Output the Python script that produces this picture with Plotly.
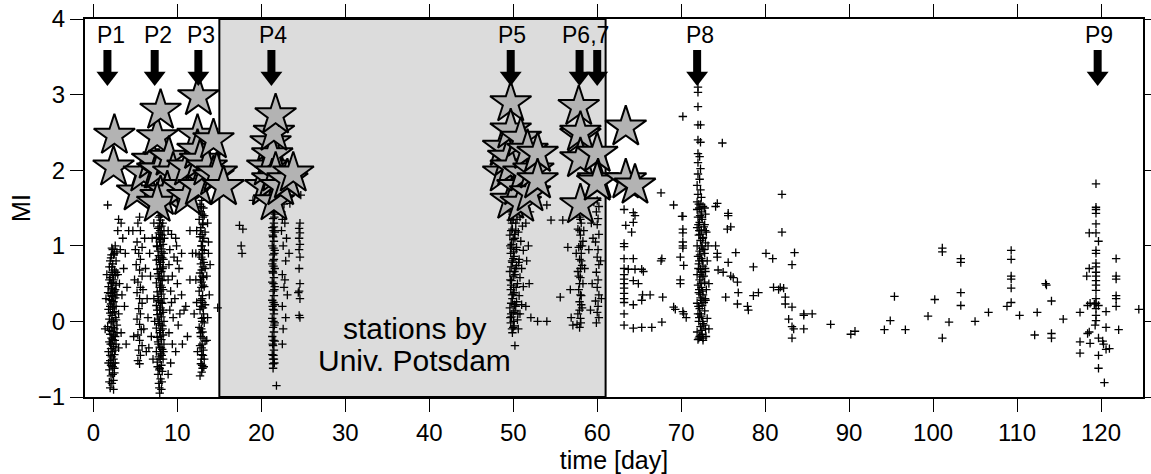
import plotly.graph_objects as go

# ---------------- data ----------------
# small events (crosses): (time [day], MI)
EV_P1 = [(2.0,-0.88),(2.2,-0.82),(2.4,-0.78),(2.1,-0.72),(2.5,-0.68),(1.9,-0.64),(2.3,-0.6),(2.6,-0.55),(2.0,-0.52),(2.2,-0.47),
         (2.5,-0.44),(1.8,-0.4),(2.1,-0.36),(2.4,-0.33),(2.7,-0.3),(1.9,-0.27),(2.3,-0.24),(2.6,-0.2),(2.0,-0.17),(2.2,-0.13),
         (2.5,-0.1),(1.7,-0.07),(2.8,-0.05),(2.1,-0.02),(2.4,0.0),(1.9,0.03),(2.6,0.05),(2.2,0.08),(2.0,0.11),(2.5,0.13),
         (1.8,0.16),(2.3,0.18),(2.7,0.2),(2.1,0.23),(2.4,0.26),(1.9,0.29),(2.6,0.31),(2.2,0.34),(2.0,0.37),(2.5,0.4),
         (2.3,0.43),(1.8,0.46),(2.7,0.48),(2.1,0.51),(2.4,0.55),(2.0,0.58),(2.6,0.61),(2.2,0.65),(2.5,0.68),(1.9,0.72),
         (2.3,0.76),(2.7,0.8),(2.1,0.84),(2.4,0.88),(2.8,0.92),(2.2,0.97),(2.6,1.0),
         (3.0,1.35),(3.3,1.3),(2.9,1.2),(3.5,1.1),(3.2,0.95),(3.6,0.7),(3.1,0.5),(3.4,0.35),(3.0,0.1),(3.3,-0.15),
         (1.5,0.3),(1.4,-0.1),(3.0,-0.35),(2.9,0.62),(1.7,1.54),(1.6,0.62),(3.8,0.9),(4.0,0.45),(3.7,0.2),(3.9,-0.3),(4.2,1.2),
         (2.3,-0.7),(2.1,-0.58),(2.4,-0.5),(2.2,-0.3),(2.4,-0.18),(2.2,0.0),(2.3,0.12),(2.2,0.28),(2.3,0.38),(2.2,0.5),
         (2.3,0.62),(2.2,0.72),(2.35,-0.08),(2.15,0.44),(2.45,0.2),
         (1.9,-0.8),(2.5,-0.62),(2.0,-0.45),(2.6,-0.38),(1.9,-0.12),(2.7,0.02),(2.0,0.2),(2.6,0.42),(1.9,0.55),(2.7,0.65),
         (2.0,0.8),(2.5,0.9),(2.4,-0.9),(2.25,-0.4),(2.35,-0.55),(2.15,-0.22),(2.25,0.33),(2.35,0.52),(2.15,0.88),(2.3,0.95),
         (1.8,-0.55),(2.8,-0.15),(2.8,0.35),(1.75,0.38),(2.05,-0.3),(2.55,-0.25)]
EV_P1B = [(5.5,1.38),(5.3,1.3),(5.6,1.2),(5.2,1.05),(5.8,0.98),(5.4,0.9),(5.6,0.82),(5.1,0.75),(5.5,0.68),(5.8,0.6),
          (5.3,0.52),(5.6,0.45),(5.2,0.38),(5.5,0.3),(5.8,0.24),(5.4,0.17),(5.6,0.1),(5.2,0.03),(5.5,-0.04),(5.7,-0.11),
          (5.3,-0.18),(5.5,-0.25),(5.8,-0.32),(5.4,-0.38),(5.6,-0.45),(5.3,-0.52),(5.5,-0.56),(6.2,0.7),(6.4,0.3),(6.0,-0.1),
          (4.9,0.55),(4.8,-0.2),(6.3,-0.4),(6.1,1.1),(5.9,0.42),(5.0,0.95),(6.5,0.05),(4.7,1.2)]
EV_P2 = [(7.9,-0.95),(8.1,-0.9),(7.8,-0.82),(8.0,-0.76),(7.7,-0.7),(8.2,-0.66),(7.9,-0.62),(8.1,-0.58),(7.6,-0.54),(8.3,-0.5),
         (7.8,-0.47),(8.0,-0.43),(7.5,-0.4),(8.2,-0.37),(7.9,-0.34),(8.4,-0.3),(7.7,-0.27),(8.1,-0.24),(7.6,-0.21),(8.3,-0.18),
         (7.9,-0.15),(8.0,-0.12),(7.5,-0.09),(8.2,-0.06),(7.8,-0.03),(8.4,0.0),(7.7,0.03),(8.1,0.06),(7.6,0.09),(8.3,0.12),
         (7.9,0.15),(8.0,0.18),(7.5,0.21),(8.2,0.24),(7.8,0.27),(8.4,0.3),(7.7,0.33),(8.1,0.36),(7.6,0.39),(8.3,0.42),
         (7.9,0.45),(8.0,0.48),(7.5,0.51),(8.2,0.54),(7.8,0.57),(8.4,0.6),(7.7,0.63),(8.1,0.66),(7.6,0.69),(8.3,0.72),
         (7.9,0.75),(8.0,0.78),(7.5,0.81),(8.2,0.84),(7.8,0.87),(8.4,0.9),(7.7,0.93),(8.1,0.96),(7.6,0.99),(8.3,1.02),
         (7.9,1.05),(8.0,1.08),(7.5,1.11),(8.2,1.14),(7.8,1.17),(8.4,1.2),(7.7,1.23),(8.1,1.26),(7.9,1.3),(8.0,1.34),
         (7.8,1.38),(8.1,1.42),(7.9,1.46),(8.0,1.5),(7.9,1.55),(8.0,1.6),
         (7.95,-0.5),(7.95,-0.2),(7.95,0.1),(7.95,0.4),(7.95,0.7),(7.95,1.0),(7.95,1.2),(8.05,-0.35),(8.05,-0.05),(8.05,0.25),
         (8.05,0.55),(8.05,0.85),(8.05,1.15),
         (7.85,-0.88),(8.15,-0.8),(7.85,-0.64),(8.15,-0.45),(7.75,-0.3),(8.25,-0.1),(7.85,0.0),(8.25,0.15),(7.75,0.28),(8.15,0.45),
         (7.85,0.6),(8.25,0.7),(7.75,0.82),(8.15,0.92),(7.85,1.1),(8.25,1.3),(7.85,1.25),(8.15,1.48),(7.95,1.4),(8.05,1.56),
         (7.6,0.15),(8.35,-0.4),(7.65,-0.6),(8.35,0.82),(7.55,1.0),(8.45,1.1),
         (8.9,1.2),(9.3,1.15),(9.8,1.1),(9.1,0.95),(9.6,0.85),(10.2,0.7),(9.0,0.75),(9.4,0.6),(10.0,0.5),(10.5,0.35),
         (9.2,0.4),(9.7,0.3),(10.8,0.15),(9.1,0.15),(9.5,0.05),(10.1,-0.05),(9.0,-0.15),(9.4,-0.3),(10.6,-0.3),(11.2,-0.2),
         (9.8,-0.4),(9.2,-0.55),(8.9,-0.7),(10.5,0.9),(11.0,0.2),(11.5,0.55),(9.9,1.0),(10.3,0.1),(8.9,0.55),(9.3,0.25),
         (11.8,0.9),(11.5,1.2),(12.0,0.1),(10.0,0.8),
         (7.0,1.1),(6.8,0.6),(7.2,0.3),(6.9,-0.2),(7.1,-0.5),(6.7,0.9),(7.2,1.3),(6.6,-0.35),(7.3,0.0)]
EV_P3 = [(12.9,1.6),(12.7,1.55),(13.1,1.5),(12.8,1.45),(13.2,1.4),(12.6,1.35),(13.0,1.3),(12.8,1.24),(13.3,1.18),(12.7,1.12),
         (13.0,1.06),(12.9,1.0),(13.2,0.94),(12.6,0.88),(13.0,0.82),(12.8,0.76),(13.3,0.7),(12.7,0.64),(13.1,0.58),(12.9,0.52),
         (13.2,0.46),(12.6,0.4),(13.0,0.34),(12.8,0.28),(13.3,0.22),(12.7,0.16),(13.1,0.1),(12.9,0.04),(13.2,-0.02),(12.6,-0.08),
         (13.0,-0.14),(12.8,-0.2),(13.3,-0.26),(12.7,-0.32),(13.1,-0.38),(12.9,-0.44),(13.2,-0.5),(12.8,-0.56),(13.0,-0.62),(12.9,-0.67),
         (12.7,-0.72),(12.95,1.42),(12.95,1.15),(12.95,0.9),(12.95,0.6),(12.95,0.3),(12.95,0.0),(12.95,-0.3),(13.05,1.28),(13.05,0.72),
         (13.05,0.18),(13.05,-0.45),(12.85,1.0),(12.85,0.45),(12.85,-0.1),
         (12.85,1.52),(13.05,1.38),(12.75,1.2),(13.15,1.1),(12.85,0.85),(13.15,0.78),(12.75,0.55),(13.05,0.48),(12.85,0.2),(13.15,0.05),
         (12.75,-0.15),(13.05,-0.22),(12.85,-0.5),(13.15,-0.6),(12.95,-0.58),(13.0,0.95),(12.9,0.68),(13.0,0.25),(12.9,-0.35),
         (12.3,1.2),(12.2,0.9),(13.6,1.3),(13.7,0.9),(13.5,0.6),(13.8,0.35),(13.6,0.05),(12.3,0.25),(13.5,-0.25),(12.4,-0.4),
         (13.7,1.05),(12.2,0.55),(14.8,0.18),(13.9,0.75)]
EV_P4 = [(17.4,1.27),(17.8,1.22),(17.6,1.0),(17.7,0.9),(19.0,1.6),
         (21.4,1.6),(21.5,1.54),(21.3,1.48),(21.6,1.42),(21.4,1.36),(21.5,1.3),(21.3,1.24),(21.6,1.18),(21.4,1.12),(21.5,1.06),
         (21.3,1.0),(21.6,0.94),(21.4,0.88),(21.5,0.82),(21.3,0.76),(21.6,0.7),(21.4,0.64),(21.5,0.58),(21.3,0.52),(21.6,0.46),
         (21.4,0.4),(21.5,0.34),(21.3,0.28),(21.6,0.22),(21.4,0.16),(21.5,0.1),(21.3,0.04),(21.6,-0.02),(21.4,-0.08),(21.5,-0.14),
         (21.3,-0.2),(21.6,-0.26),(21.4,-0.32),(21.5,-0.38),(21.3,-0.44),(21.5,-0.5),(21.4,-0.56),(21.4,-0.62),(21.8,-0.85),
         (21.45,1.45),(21.45,1.2),(21.45,0.97),(21.45,0.73),(21.45,0.5),(21.45,0.25),(21.45,0.0),(21.45,-0.25),(21.45,-0.45),
         (21.35,1.55),(21.55,1.38),(21.35,1.14),(21.55,0.9),(21.35,0.66),(21.55,0.42),(21.35,0.2),(21.55,-0.05),(21.35,-0.3),(21.55,-0.55),
         (21.4,-0.5),(21.5,0.15),(21.4,0.8),(21.5,1.25),
         (22.5,1.35),(22.8,1.3),(22.4,1.2),(22.6,1.0),(22.9,0.8),(22.5,0.62),(22.7,0.45),(23.1,0.35),(22.5,0.2),(22.9,0.05),
         (22.6,-0.1),(22.8,0.55),(23.3,0.9),(22.4,1.45),(22.7,1.55),(22.5,-0.3),(23.0,1.1),(23.4,1.56),(24.7,1.67),
         (24.6,1.3),(24.5,1.23),(24.6,1.17),(24.5,1.1),(24.6,1.02),(24.5,0.95),(24.6,0.85),(24.5,0.7),(24.6,0.5),(24.5,0.4),
         (24.4,0.38),(24.6,0.3),(24.5,0.08),(24.6,0.05)]
EV_P5 = [(49.8,1.6),(50.2,1.55),(49.6,1.5),(50.5,1.46),(49.9,1.42),(50.8,1.38),(49.7,1.34),(50.3,1.3),(51.1,1.26),(49.9,1.22),
         (50.6,1.18),(49.6,1.14),(50.2,1.1),(50.9,1.06),(49.8,1.02),(50.4,0.98),(51.2,0.94),(49.7,0.9),(50.1,0.86),(50.7,0.82),
         (49.9,0.78),(50.4,0.74),(51.0,0.7),(49.6,0.66),(50.2,0.62),(50.8,0.58),(49.8,0.54),(50.5,0.5),(51.2,0.46),(49.7,0.42),
         (50.1,0.38),(50.7,0.34),(49.9,0.3),(50.4,0.26),(51.0,0.22),(49.6,0.18),(50.2,0.14),(50.8,0.1),(49.8,0.06),(50.5,0.02),
         (49.7,-0.02),(50.1,-0.06),(50.6,-0.1),(49.9,-0.15),(50.2,-0.32),(51.5,1.3),(51.6,0.8),(51.5,0.2),(51.8,1.0),(51.9,0.5),
         (52.0,1.45),(52.1,0.05),
         (49.75,1.45),(49.75,1.2),(49.75,0.97),(49.75,0.72),(49.75,0.48),(49.75,0.24),(49.75,0.1),(50.0,1.35),(50.0,1.08),(50.0,0.83),
         (50.0,0.6),(50.0,0.36),(50.0,0.12),(50.0,-0.08),(50.3,1.2),(50.3,0.7),(50.3,0.2),
         (49.65,1.55),(50.05,1.48),(49.85,1.3),(50.15,1.15),(49.65,1.0),(50.05,0.92),(49.85,0.8),(50.15,0.66),(49.65,0.55),(50.05,0.45),
         (49.85,0.35),(50.15,0.22),(49.65,0.05),(50.05,0.0),(49.85,-0.1),(50.35,0.95),(50.35,0.45),(50.45,1.35),(50.55,0.1),(50.65,0.78),
         (54.0,1.54),(54.5,1.34),(55.9,1.34),(54.0,0.0),(52.9,0.0)]
EV_P67 = [(58.0,1.6),(57.8,1.52),(58.2,1.45),(57.9,1.38),(58.1,1.3),(57.7,1.22),(58.0,1.14),(58.3,1.06),(57.8,0.98),(58.1,0.9),
          (57.9,0.82),(58.2,0.74),(57.7,0.66),(58.0,0.58),(58.3,0.5),(57.8,0.42),(58.1,0.34),(57.9,0.26),(58.2,0.18),(57.7,0.1),
          (58.0,0.04),(57.6,-0.04),(57.9,-0.08),(58.4,1.2),(58.5,0.7),(57.5,0.9),
          (58.0,1.35),(58.0,1.0),(58.0,0.7),(58.0,0.35),(57.9,0.15),
          (58.1,1.5),(57.9,1.2),(58.1,0.8),(57.9,0.5),(58.1,0.22),(58.05,-0.02),(58.2,1.0),(57.8,0.6),
          (60.0,1.6),(60.2,1.52),(59.9,1.45),(60.1,1.36),(60.0,1.28),(60.2,1.15),(59.8,1.05),(60.1,0.95),(60.0,0.85),(60.2,0.75),
          (59.9,0.65),(60.1,0.55),(60.0,0.45),(60.2,0.35),(59.8,0.27),(60.1,0.2),(60.0,0.12),(60.2,0.05),(59.9,-0.02),(60.4,0.8),
          (60.5,0.3),(59.4,0.5),(59.2,0.15),(59.5,1.1),(59.0,0.95),(59.3,1.3),(59.6,1.58),
          (56.5,0.98),(55.6,0.32),(56.8,0.42),(57.1,-0.05),(56.9,0.05)]
EV_P8 = [(72.0,3.1),(72.0,3.03),(72.0,2.84),(72.0,2.6),(72.3,2.6),(72.0,2.4),(72.3,2.37),(72.0,2.22),(72.2,2.18),(72.0,2.1),
         (72.3,2.02),(72.0,1.95),(72.2,1.88),(71.9,1.8),(72.3,1.74),(72.0,1.68),(72.4,1.64),(71.9,1.58),
         (72.1,1.55),(72.6,1.52),(71.9,1.48),(72.4,1.45),(72.9,1.42),(72.0,1.38),(72.5,1.35),(72.2,1.31),(72.8,1.28),(71.9,1.24),
         (72.4,1.21),(73.0,1.18),(72.1,1.14),(72.6,1.11),(72.3,1.07),(72.9,1.04),(71.9,1.0),(72.5,0.97),(72.2,0.93),(72.8,0.9),
         (72.0,0.86),(72.4,0.83),(73.1,0.8),(72.1,0.76),(72.6,0.73),(72.3,0.69),(72.9,0.66),(71.9,0.62),(72.5,0.59),(72.2,0.55),
         (72.8,0.52),(72.0,0.48),(72.4,0.45),(73.0,0.42),(72.1,0.38),(72.6,0.35),(72.3,0.31),(72.9,0.28),(71.9,0.24),(72.5,0.21),
         (72.2,0.17),(72.8,0.14),(72.0,0.1),(72.4,0.07),(73.1,0.04),(72.1,0.0),(72.6,-0.03),(72.3,-0.07),(72.9,-0.1),(71.9,-0.14),
         (72.5,-0.17),(72.2,-0.2),(72.0,-0.24),(72.6,-0.22),
         (72.25,1.4),(72.25,1.15),(72.25,0.88),(72.25,0.62),(72.25,0.36),(72.25,0.1),(72.7,1.25),(72.7,0.95),(72.7,0.6),(72.7,0.25),
         (72.7,-0.05),(72.05,1.28),(72.05,0.7),(72.05,0.2),
         (72.15,1.5),(72.45,1.38),(72.15,1.2),(72.45,1.0),(72.15,0.8),(72.45,0.65),(72.15,0.42),(72.45,0.28),(72.15,0.05),(72.45,-0.12),
         (72.35,1.55),(72.35,0.5),(72.35,-0.2),(72.55,1.1),(72.55,0.8),(72.55,0.4),(72.55,0.0),(72.85,1.2),(72.85,0.7),(72.85,0.3),
         (72.95,-0.2),(73.2,1.0),(73.3,0.5),(73.3,-0.1),(72.8,1.5),(72.6,-0.25),(72.1,-0.22)]
EV_LATE = [(63.2,1.48),(64.3,1.44),(64.5,1.4),(63.4,1.27),(64.3,1.31),(64.1,1.18),(63.2,1.03),(63.2,0.99),(63.2,0.83),(64.3,0.83),
           (63.2,0.7),(63.7,0.69),(64.5,0.69),(65.3,0.69),(65.5,0.66),(63.2,0.62),(63.2,0.56),(64.3,0.54),(64.9,0.5),(63.2,0.5),
           (63.2,0.44),(63.2,0.37),(66.3,0.35),(67.8,0.32),(65.4,0.35),(63.2,0.3),(63.2,0.25),(64.3,0.22),(65.3,0.28),(63.2,0.1),
           (63.2,-0.05),(64.3,-0.09),(65.3,-0.08),(66.5,-0.08),(67.7,-0.01),(67.6,0.8),(67.7,0.83),
           (69.1,1.54),(70.2,1.39),(70.2,1.22),(70.2,1.17),(70.2,1.05),(70.2,1.0),(70.2,0.97),(69.9,0.85),(70.3,0.74),(69.9,0.55),
           (69.9,0.5),(69.1,0.19),(69.3,0.16),(70.2,0.13),(70.3,0.1),(70.6,0.05),
           (70.2,2.71),(74.9,2.36),(67.6,1.7),(70.1,1.39),(82.0,1.68),(74.3,1.56),(74.1,1.52),(75.6,1.43),
           (74.1,1.0),(74.3,0.9),(74.3,0.85),(75.6,1.4),(75.5,1.22),(75.9,1.25),(76.5,0.91),(75.6,0.78),(74.4,0.68),(75.0,0.65),
           (75.9,0.6),(76.2,0.58),(76.7,0.52),(76.8,0.38),(75.3,0.32),(76.7,0.23),(77.9,0.2),(78.0,0.15),(78.6,0.34),(79.2,0.38),
           (78.6,0.72),(80.1,0.9),(80.9,0.83),(82.0,1.18),(83.5,0.91),(83.2,0.75),(81.0,0.45),(81.8,0.45),(82.2,0.44),(81.6,0.42),
           (82.4,0.32),(82.4,0.23),(83.2,0.19),(84.6,0.1),(84.6,0.08),(85.6,0.1),(82.8,0.03),(83.2,-0.07),(83.4,-0.1),(84.6,-0.1),
           (83.2,-0.22),(87.8,-0.04),(90.2,-0.17),(90.7,-0.13),
           (94.2,-0.11),(94.9,0.01),(95.4,0.33),(96.7,-0.11),(99.4,0.07),(100.2,0.29),(101.1,0.97),(101.1,0.92),(101.1,-0.22),(101.9,-0.01),
           (103.3,0.83),(103.3,0.78),(103.3,0.38),(103.3,0.21),(105.0,0.0),(106.6,0.12),(108.8,0.2),(109.3,0.94),(109.3,0.82),(109.3,0.6),
           (109.3,0.56),(109.3,0.44),(109.3,0.25),(110.3,0.08),(112.1,-0.18),(112.4,0.12),(113.4,0.5),(113.5,0.48),(114.1,0.27),(114.1,-0.16),
           (114.1,-0.22),(115.5,0.03),(117.5,0.12),(117.5,-0.27),(117.5,-0.42),(118.3,0.6),(118.6,1.17),(118.6,0.7),(118.4,0.21),(118.7,0.24),
           (118.6,-0.14),(118.7,-0.29),(118.4,-0.16),(119.4,1.82),(119.4,1.51),(119.4,1.48),(119.4,1.43),(119.4,1.29),(119.4,1.17),(119.7,1.06),
           (119.4,0.94),(119.4,0.9),(119.4,0.77),(119.4,0.72),(119.4,0.65),(119.4,0.6),(119.4,0.54),(119.4,0.48),(119.4,0.41),(119.4,0.3),
           (119.4,0.24),(119.2,0.23),(119.7,0.21),(119.4,0.17),(119.4,0.08),(119.4,0.01),(119.3,-0.05),(120.6,0.13),(120.6,-0.08),(119.7,-0.22),
           (120.2,-0.26),(120.3,-0.3),(120.6,-0.37),(121.0,-0.36),(119.7,-0.45),(119.7,-0.62),(120.4,-0.81),(121.8,0.83),(121.8,0.6),(121.8,0.56),
           (121.8,0.34),(121.8,0.3),(121.8,0.2),(122.1,-0.11),(124.5,0.16)]

# large events (stars)
STAR_X = [2.5, 2.4, 5.2, 6.0, 7.0, 7.6, 7.6, 7.8, 8.0, 8.0, 9.0, 9.5, 8.8, 7.6, 10.6, 11.2, 11.2,
          12.5, 12.4, 12.4, 12.7, 12.5, 13.5, 14.3, 14.3, 14.7, 15.5,
          20.5, 20.7, 21.1, 21.3, 21.3, 21.5, 21.5, 21.7, 21.7, 22.3, 23.1, 23.8,
          48.8, 48.8, 49.4, 49.7, 49.7, 49.7, 49.7, 50.5, 50.9, 50.9, 51.2, 51.7, 52.0, 52.4, 52.9, 52.9,
          57.8, 58.0, 58.0, 58.0, 58.0, 60.0, 60.1, 60.0, 63.4, 63.4, 64.5]
STAR_Y = [2.46, 2.04, 1.71, 1.96, 2.13, 2.44, 2.0, 2.0, 2.79, 1.65, 2.17, 1.96, 1.71, 1.56, 1.78, 2.04, 1.65,
          2.97, 2.46, 2.26, 2.13, 1.78, 2.04, 2.4, 1.91, 1.96, 1.78,
          1.78, 2.04, 2.36, 2.2, 1.87, 2.5, 1.58, 2.73, 1.96, 1.78, 1.87, 1.96,
          2.3, 1.96, 2.17, 2.89, 2.53, 2.04, 1.6, 1.78, 2.42, 1.56, 1.96, 2.26, 1.7, 2.0, 2.22, 1.87,
          2.84, 2.46, 2.5, 2.15, 1.54, 2.22, 1.87, 1.84, 2.57, 1.87, 1.8]

# peaks (arrows) and labels
ARROW_X = [1.67, 7.3, 12.5, 21.2, 49.7, 57.9, 60.0, 71.9, 119.6]
LABEL_TEXT = ["P1", "P2", "P3", "P4", "P5", "P6,7", "P8", "P9"]
LABEL_X = [2.1, 7.7, 12.8, 21.4, 49.9, 58.6, 72.2, 119.8]
LABEL_Y = 3.79
ARROW_TOP_Y = 3.59
ARROW_HEAD_Y = 3.24

SHADE_X = [15, 61]
SHADE_TEXT = ["stations by", "Univ. Potsdam"]
SHADE_TEXT_X = 38.2
SHADE_TEXT_Y = [-0.1, -0.52]

X_RANGE = [-1, 125]
Y_RANGE = [-1, 4]

FONT = "Liberation Sans, Arial, Helvetica, sans-serif"

# ---------------- figure ----------------
events = EV_P1 + EV_P1B + EV_P2 + EV_P3 + EV_P4 + EV_P5 + EV_P67 + EV_P8 + EV_LATE
ex = [p[0] for p in events]
ey = [p[1] for p in events]

fig = go.Figure()

fig.add_trace(go.Scatter(
    x=ex, y=ey, mode="markers",
    marker=dict(symbol="cross-thin", size=6, line=dict(color="black", width=1.3), color="black"),
    showlegend=False, hoverinfo="skip"))

fig.add_trace(go.Scatter(
    x=STAR_X, y=STAR_Y, mode="markers",
    marker=dict(symbol="star", size=31, color="#b3b3b3", line=dict(color="black", width=2)),
    showlegend=False, hoverinfo="skip"))

# arrow shafts
sx, sy = [], []
for xa in ARROW_X:
    sx += [xa, xa, None]
    sy += [ARROW_TOP_Y, ARROW_HEAD_Y, None]
fig.add_trace(go.Scatter(x=sx, y=sy, mode="lines", line=dict(color="black", width=8),
                         showlegend=False, hoverinfo="skip"))
# arrow heads
fig.add_trace(go.Scatter(x=ARROW_X, y=[ARROW_HEAD_Y] * len(ARROW_X), mode="markers",
                         marker=dict(symbol="triangle-down", size=19, color="black", line=dict(width=0)),
                         showlegend=False, hoverinfo="skip"))

fig.add_shape(type="rect", xref="x", yref="y", x0=SHADE_X[0], x1=SHADE_X[1], y0=Y_RANGE[0], y1=Y_RANGE[1],
              fillcolor="#dcdcdc", line=dict(color="black", width=2), layer="below")

for t, xl in zip(LABEL_TEXT, LABEL_X):
    fig.add_annotation(x=xl, y=LABEL_Y, text=t, showarrow=False, xanchor="center", yanchor="middle",
                       font=dict(family=FONT, size=23, color="black"))

for t, yl in zip(SHADE_TEXT, SHADE_TEXT_Y):
    fig.add_annotation(x=SHADE_TEXT_X, y=yl, text=t, showarrow=False, xanchor="center", yanchor="middle",
                       font=dict(family=FONT, size=30, color="black"))

axis_common = dict(showline=True, linecolor="black", linewidth=2, mirror="allticks",
                   ticks="outside", ticklen=13, tickwidth=1, tickcolor="black",
                   showgrid=False, zeroline=False, automargin=False,
                   tickfont=dict(family=FONT, size=24, color="black"))

fig.update_xaxes(range=X_RANGE, dtick=10, tick0=0,
                 title=dict(text="time [day]", font=dict(family=FONT, size=25, color="black"), standoff=0),
                 **axis_common)
fig.update_yaxes(range=Y_RANGE, dtick=1, tick0=0,
                 title=dict(text="MI", font=dict(family=FONT, size=25, color="black"), standoff=0),
                 **axis_common)

fig.update_layout(width=1151, height=474, margin=dict(l=85, r=8, t=19, b=77),
                  plot_bgcolor="white", paper_bgcolor="white",
                  font=dict(family=FONT, color="black"))

fig.write_html("out.html")
